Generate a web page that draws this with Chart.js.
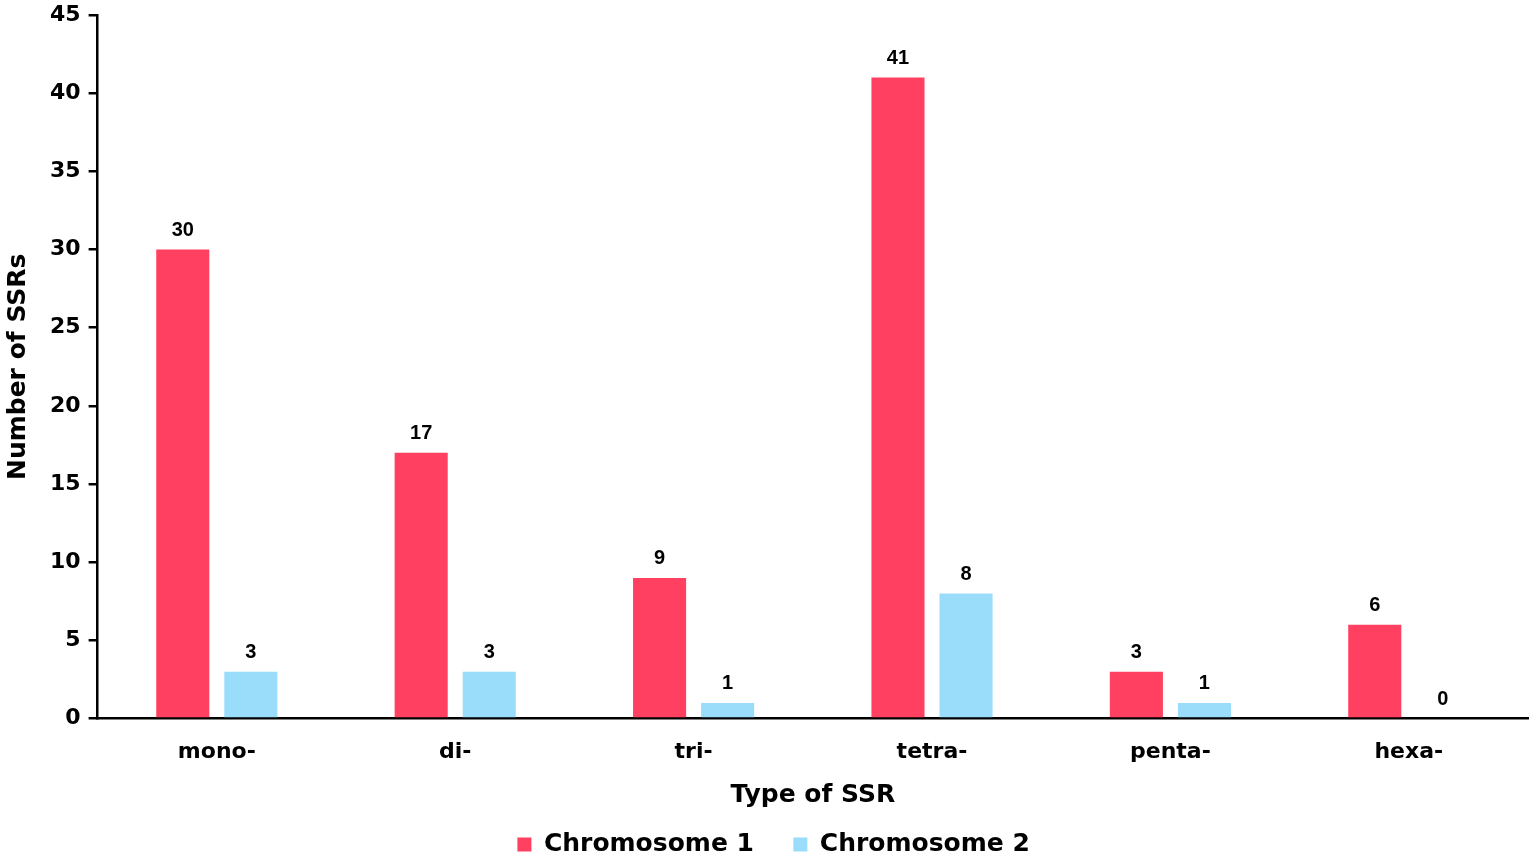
<!DOCTYPE html>
<html>
<head>
<meta charset="utf-8">
<script src="https://cdn.jsdelivr.net/npm/chart.js@4/dist/chart.umd.min.js"></script>
<style>
  html, body { margin: 0; padding: 0; background: #fff; }
  #wrap { width: 1535px; height: 859px; }
</style>
</head>
<body>
<div id="wrap"><canvas id="ssr-chart"></canvas></div>
<script>
// SSR counts per motif type
const ssrTypes = ["mono-", "di-", "tri-", "tetra-", "penta-", "hexa-"];
const chromosome1 = [30, 17, 9, 41, 3, 6];
const chromosome2 = [3, 3, 1, 8, 1, 0];
const yTicks = [0, 5, 10, 15, 20, 25, 30, 35, 40, 45];

const FONT = "'DejaVu Sans', sans-serif";
const LABEL_FONT = "'Liberation Sans', Arial, sans-serif";

// value labels above bars
const barValues = {
  id: "barValues",
  afterDatasetsDraw(chart) {
    const ctx = chart.ctx;
    ctx.save();
    ctx.font = "bold 20px " + LABEL_FONT;
    ctx.fillStyle = "#000";
    ctx.textAlign = "center";
    ctx.textBaseline = "bottom";
    chart.data.datasets.forEach((ds, i) => {
      chart.getDatasetMeta(i).data.forEach((bar, j) => {
        ctx.fillText(ds.data[j], bar.x, bar.y - 9);
      });
    });
    ctx.restore();
  },
};

new Chart(document.getElementById("ssr-chart"), {
  type: "bar",
  data: {
    labels: ssrTypes,
    datasets: [
      {
        label: "Chromosome 1",
        data: chromosome1,
        backgroundColor: "#FF4060",
        categoryPercentage: 0.571,
        barPercentage: 0.78,
      },
      {
        label: "Chromosome 2",
        data: chromosome2,
        backgroundColor: "#99DDFA",
        categoryPercentage: 0.571,
        barPercentage: 0.78,
      },
    ],
  },
  options: {
    responsive: true,
    maintainAspectRatio: false,
    animation: false,
    layout: { padding: { top: 15, right: 7, left: 3, bottom: -8 } },
    plugins: {
      tooltip: { enabled: false },
      legend: {
        position: "bottom",
        fullSize: false,
        labels: {
          usePointStyle: true,
          pointStyle: "rect",
          boxWidth: 14,
          boxHeight: 14,
          padding: 22,
          color: "#000",
          font: { family: FONT, size: 25, weight: "bold" },
          generateLabels(chart) {
            const items = Chart.defaults.plugins.legend.labels.generateLabels(chart);
            items[0].text += "  ";
            items[1].text += "         ";
            return items;
          },
        },
      },
    },
    scales: {
      x: {
        grid: { display: false, drawTicks: false },
        border: { display: true, color: "#000", width: 2.5 },
        ticks: {
          color: "#000",
          padding: 20,
          font: { family: FONT, size: 22, weight: "bold" },
        },
        title: {
          display: true,
          text: "Type of SSR",
          color: "#000",
          padding: { top: -5, bottom: 0 },
          font: { family: FONT, size: 25, weight: "bold" },
        },
      },
      y: {
        min: 0,
        max: 45,
        afterBuildTicks(axis) {
          axis.ticks = yTicks.map((v) => ({ value: v }));
        },
        grid: {
          drawOnChartArea: false,
          drawTicks: true,
          tickLength: 9,
          color: "#000",
          lineWidth: 2.5,
        },
        border: { display: true, color: "#000", width: 2.5 },
        ticks: {
          color: "#000",
          padding: 8,
          font: { family: FONT, size: 22, weight: "bold", lineHeight: 0.6 },
        },
        title: {
          display: true,
          text: "Number of SSRs",
          color: "#000",
          padding: { top: 0, bottom: 9 },
          font: { family: FONT, size: 25, weight: "bold" },
        },
      },
    },
  },
  plugins: [barValues],
});
</script>
</body>
</html>
